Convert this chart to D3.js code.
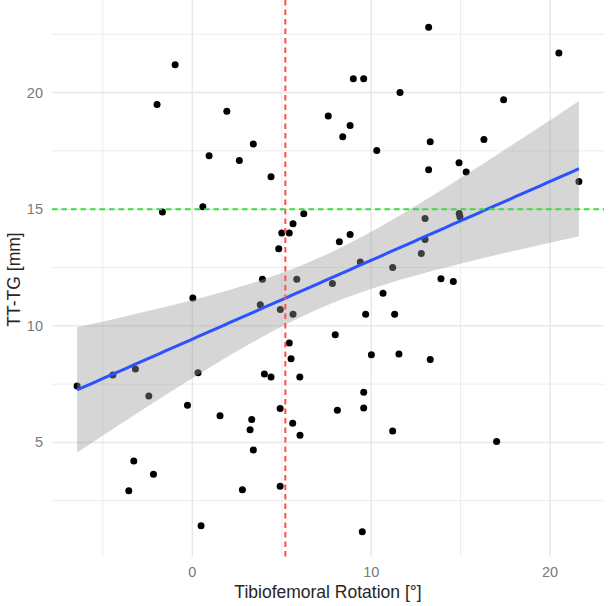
<!DOCTYPE html>
<html>
<head>
<meta charset="utf-8">
<script src="https://cdn.jsdelivr.net/npm/d3@7"></script>
<style>
  html, body { margin: 0; padding: 0; background: #fff; }
  svg { display: block; }
</style>
</head>
<body>
<svg id="chart" width="609" height="606"></svg>
<script>
// Tibiofemoral rotation [°]
const rotation = [
  -0.96, -1.97, 1.93, 0.94, 2.63, 3.41, 4.40, 9.00, 9.58, 7.60,
  8.82, 8.41, 10.31, 11.61, 13.21, 20.49, 17.40, 13.30, 16.30, 13.21,
  14.91, 15.31, 21.61, -1.67, 0.59, 0.03, -4.44, -3.18, -6.44, -2.43,
  0.32, 6.23, 5.63, 5.00, 5.42, 4.83, 8.22, 8.82, 3.92, 5.84,
  7.83, 9.39, 11.20, 10.66, 3.80, 4.92, 5.63, 9.69, 11.31, 7.99,
  5.42, 5.52, 10.01, 11.55, 4.03, 4.40, 6.01, 9.58, 13.01, 14.92,
  14.96, 13.01, 12.80, 13.90, 14.59, 13.30, -0.27, -3.27, -2.17, -3.55,
  0.49, 1.55, 3.32, 3.23, 3.41, 4.91, 5.61, 6.02, 8.11, 9.58,
  11.20, 2.80, 4.91, 9.50, 17.01
];
// TT-TG [mm]
const tttg = [
  21.19, 19.49, 19.20, 17.29, 17.09, 17.79, 16.39, 20.59, 20.59, 18.99,
  18.59, 18.10, 17.51, 20.00, 22.80, 21.69, 19.69, 17.89, 17.99, 16.69,
  16.99, 16.59, 16.19, 14.88, 15.10, 11.19, 7.89, 8.15, 7.42, 6.99,
  7.99, 14.80, 14.38, 13.98, 13.98, 13.30, 13.60, 13.91, 12.00, 12.00,
  11.81, 12.73, 12.50, 11.40, 10.90, 10.70, 10.49, 10.49, 10.49, 9.62,
  9.26, 8.59, 8.76, 8.79, 7.93, 7.80, 7.80, 7.15, 14.60, 14.81,
  14.68, 13.70, 13.10, 12.02, 11.90, 8.56, 6.59, 4.20, 3.64, 2.93,
  1.43, 6.14, 5.98, 5.54, 4.68, 6.45, 5.82, 5.31, 6.38, 6.48,
  5.49, 2.97, 3.12, 1.17, 5.04
];
const xTicks = [0, 10, 20];
const yTicks = [5, 10, 15, 20];
const xMinor = [-5, 5, 15];
const yMinor = [2.5, 7.5, 12.5, 17.5, 22.5];
const refRotation = [5.2];   // vertical reference line
const refTTTG = [15];        // horizontal reference line
const xTitle = "Tibiofemoral Rotation [°]";
const yTitle = "TT-TG [mm]";

const svg = d3.select("#chart");
const panel = { left: 52, right: 604, top: 2, bottom: 557 };

const data = rotation.map((x, i) => ({ x, y: tttg[i] }));
const xExt = d3.extent(rotation), yExt = d3.extent(tttg);
const xPad = (xExt[1] - xExt[0]) * 0.05, yPad = (yExt[1] - yExt[0]) * 0.05;
const x = d3.scaleLinear().domain([xExt[0] - xPad, xExt[1] + xPad]).range([panel.left, panel.right]);
const y = d3.scaleLinear().domain([yExt[0] - yPad, yExt[1] + yPad]).range([panel.bottom, panel.top]);

// gridlines
const grid = svg.append("g");
grid.selectAll(".vminor").data(xMinor).join("line")
  .attr("x1", d => x(d)).attr("x2", d => x(d)).attr("y1", 0).attr("y2", panel.bottom)
  .attr("stroke", "#ececec").attr("stroke-width", 1);
grid.selectAll(".hminor").data(yMinor).join("line")
  .attr("y1", d => y(d)).attr("y2", d => y(d)).attr("x1", panel.left).attr("x2", panel.right)
  .attr("stroke", "#ececec").attr("stroke-width", 1);
grid.selectAll(".vmajor").data(xTicks).join("line")
  .attr("x1", d => x(d)).attr("x2", d => x(d)).attr("y1", 0).attr("y2", panel.bottom)
  .attr("stroke", "#e8e8e8").attr("stroke-width", 1.5);
grid.selectAll(".hmajor").data(yTicks).join("line")
  .attr("y1", d => y(d)).attr("y2", d => y(d)).attr("x1", panel.left).attr("x2", panel.right)
  .attr("stroke", "#e8e8e8").attr("stroke-width", 1.5);

// points
svg.append("g").selectAll("circle").data(data).join("circle")
  .attr("cx", d => x(d.x)).attr("cy", d => y(d.y)).attr("r", 3.5).attr("fill", "#000");

// linear fit with 95% confidence band (as geom_smooth(method = "lm"))
const n = data.length;
const mx = d3.mean(rotation), my = d3.mean(tttg);
const sxx = d3.sum(rotation, v => (v - mx) ** 2);
const sxy = d3.sum(data, d => (d.x - mx) * (d.y - my));
const b1 = sxy / sxx, b0 = my - b1 * mx;
const rss = d3.sum(data, d => (d.y - b0 - b1 * d.x) ** 2);
const s = Math.sqrt(rss / (n - 2));
const tq = 1.989;
const grid80 = d3.range(80).map(i => xExt[0] + (xExt[1] - xExt[0]) * i / 79);
const fit = grid80.map(gx => {
  const f = b0 + b1 * gx;
  const se = s * Math.sqrt(1 / n + (gx - mx) ** 2 / sxx);
  return { x: gx, f, lo: f - tq * se, hi: f + tq * se };
});
svg.append("path").datum(fit)
  .attr("d", d3.area().x(d => x(d.x)).y0(d => y(d.lo)).y1(d => y(d.hi)))
  .attr("fill", "#999999").attr("fill-opacity", 0.4);
svg.append("path").datum(fit)
  .attr("d", d3.line().x(d => x(d.x)).y(d => y(d.f)))
  .attr("fill", "none").attr("stroke", "#2a52ff").attr("stroke-width", 3);

// reference lines
svg.selectAll(".vref").data(refRotation).join("line")
  .attr("x1", d => x(d)).attr("x2", d => x(d)).attr("y1", 0).attr("y2", panel.bottom)
  .attr("stroke", "#ff5045").attr("stroke-width", 2).attr("stroke-dasharray", "5.5,4");
svg.selectAll(".href").data(refTTTG).join("line")
  .attr("y1", d => y(d)).attr("y2", d => y(d)).attr("x1", panel.left).attr("x2", panel.right)
  .attr("stroke", "#3ddc3d").attr("stroke-width", 2).attr("stroke-dasharray", "5.5,4");

// axes (text only, as in theme_minimal)
const font = "'Liberation Sans', Arial, sans-serif";
svg.append("g").selectAll("text").data(xTicks).join("text")
  .attr("x", d => x(d)).attr("y", 577).attr("text-anchor", "middle")
  .attr("font-family", font).attr("font-size", 14.5).attr("fill", "#7a7a7a").text(d => d);
svg.append("g").selectAll("text").data(yTicks).join("text")
  .attr("x", 43).attr("y", d => y(d) + 5).attr("text-anchor", "end")
  .attr("font-family", font).attr("font-size", 14.5).attr("fill", "#7a7a7a").text(d => d);
svg.append("text").attr("x", (panel.left + panel.right) / 2).attr("y", 598)
  .attr("text-anchor", "middle").attr("font-family", font).attr("font-size", 17.5)
  .attr("fill", "#262626").text(xTitle);
svg.append("text").attr("transform", `translate(20,${(panel.top + panel.bottom) / 2}) rotate(-90)`)
  .attr("text-anchor", "middle").attr("font-family", font).attr("font-size", 17.5)
  .attr("fill", "#262626").text(yTitle);
</script>
</body>
</html>
